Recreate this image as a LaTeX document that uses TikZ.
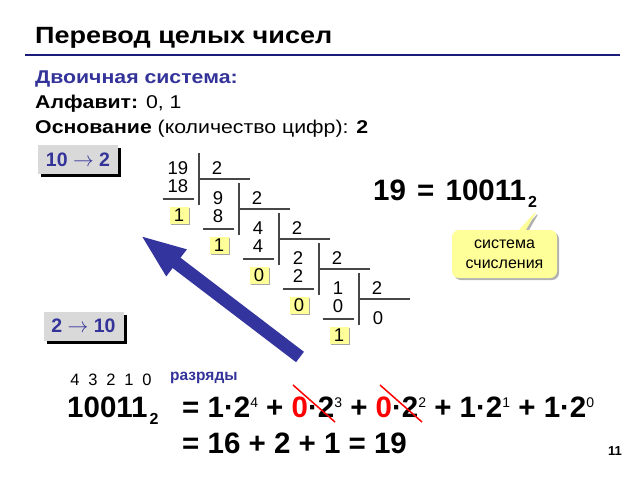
\documentclass[tikz,border=0pt]{standalone}
\usepackage{fontspec}
\setmainfont{Liberation Sans}
\newfontfamily\widesans[FakeStretch=1.15]{Liberation Sans}
\usetikzlibrary{arrows.meta,shapes.callouts,shadows}
\definecolor{navyline}{RGB}{28,28,122}
\definecolor{bluetext}{RGB}{51,51,153}
\definecolor{arrowblue}{RGB}{52,52,158}
\definecolor{notepaper}{RGB}{255,255,153}
\definecolor{boxgray}{RGB}{217,217,217}
\definecolor{rulegray}{RGB}{70,70,70}
\newcommand{\pw}[1]{\raisebox{10pt}{\fontsize{14}{14}\mdseries\selectfont #1}}
\newcommand{\base}[1]{\kern2pt\raisebox{-7pt}{\fontsize{16}{16}\selectfont #1}}
\tikzset{
  txt/.style={anchor=base west, inner sep=0pt},
  head/.style={txt, font=\widesans\fontsize{18.5}{18.5}\selectfont},
  headbf/.style={txt, font=\widesans\fontsize{18.5}{18.5}\selectfont\bfseries},
  num/.style={inner sep=0pt, font=\fontsize{18.5}{18.5}\selectfont},
  big/.style={txt, font=\fontsize{29.5}{29.5}\selectfont\bfseries},
  rule/.style={rulegray, line width=1.2pt},
  rest/.style={num, fill=notepaper, minimum width=19pt, minimum height=17pt,
    drop shadow={shadow xshift=1.5pt, shadow yshift=-1.5pt, fill=black!35, opacity=1}},
  sysbox/.style={fill=boxgray, minimum width=80pt, minimum height=29pt, inner sep=0pt,
    text=bluetext, font=\fontsize{19.5}{19.5}\selectfont\bfseries,
    drop shadow={shadow xshift=3pt, shadow yshift=-3pt, fill=black, opacity=1}},
}
\begin{document}
\begin{tikzpicture}[x=1pt, y=-1pt]
  %%%%% START %%%%%
  \useasboundingbox (0,0) rectangle (640,480);

  \node[txt, font=\widesans\fontsize{23.5}{23.5}\selectfont\bfseries] (title) at (35,43) {Перевод целых чисел};
  \draw[navyline, line width=2.5pt] (25,55) -- (620,55);

  \node[headbf, text=bluetext] (sys) at (35,83) {Двоичная система:};
  \node[head] (alph) at (35,108) {\textbf{Алфавит:} 0, 1};
  \node[head] (radix) at (35,133) {\textbf{Основание} (количество цифр): \textbf{2}};

  \node[sysbox] (toBin) at (78,159.5) {10 $\rightarrow$ 2};
  \node[sysbox] (toDec) at (83.5,326) {2 $\rightarrow$ 10};

  % division ladder
  \foreach \divd/\subt/\rmd [count=\k from 0] in {19/18/1, 9/8/1, 4/4/0, 2/2/0, 1/0/1} {
    \pgfmathsetmacro\xx{178+40*\k}
    \pgfmathsetmacro\yy{168+30*\k}
    \node[num] (dv\k) at (\xx,\yy) {\divd};
    \node[num] (ds\k) at (\xx+39,\yy) {2};
    \node[num] (sb\k) at (\xx,\yy+18) {\subt};
    \node[rest] (rm\k) at (\xx+1,\yy+47) {\rmd};
    \draw[rule] (\xx+21,\yy-15) -- (\xx+21,\yy+37);
    \draw[rule] (\xx+21,\yy+11) -- (\xx+72,\yy+11);
    \draw[rule] (\xx-15,\yy+31) -- (\xx+16,\yy+31);
  }
  \node[num] (dv5) at (378,318) {0};

  % read the remainders upwards
  \coordinate (tail) at (300,357);
  \coordinate (tip) at (140,235);
  \draw[arrowblue, line width=13pt, -{Triangle[length=46pt, width=30pt]}] (tail) -- (tip);

  \node[big] (res) at (373,200) {19\kern3pt{} = \kern3pt10011\base{2}};
  \node[rectangle callout, fill=notepaper, rounded corners=7pt, minimum width=105pt, minimum height=48pt,
    align=center, font=\fontsize{16}{20}\selectfont, callout absolute pointer={(538,209)},
    drop shadow={shadow xshift=2pt, shadow yshift=-2pt, fill=black!30, opacity=1}]
    (note) at (504.5,254) {система\\счисления};

  % back to decimal
  \foreach \d [count=\i from 0] in {4,3,2,1,0}
    \node[num, anchor=base, font=\fontsize{16.5}{16.5}\selectfont] (pos\d) at (75+18*\i,385) {\d};
  \node[txt, font=\fontsize{15.5}{15.5}\selectfont\bfseries, text=bluetext] (digits) at (170,380) {разряды};
  \node[big] (bin) at (67,417) {10011\base{2}};
  \node[big] (sum) at (182,417) {= 1·2\pw{4} + \textcolor{red}{0}·2\pw{3} + \textcolor{red}{0}·2\pw{2} + 1·2\pw{1} + 1·2\pw{0}};
  \node[big] (total) at (182,453) {= 16 + 2 + 1 = 19};
  \draw[red, line width=1.5pt] (293,385) -- (335,422);
  \draw[red, line width=1.5pt] (380,385) -- (422,422);

  \node[txt, anchor=base east, font=\fontsize{13}{13}\selectfont\bfseries] (page) at (622,455) {11};
  %%%%% END %%%%%
\end{tikzpicture}
\end{document}
